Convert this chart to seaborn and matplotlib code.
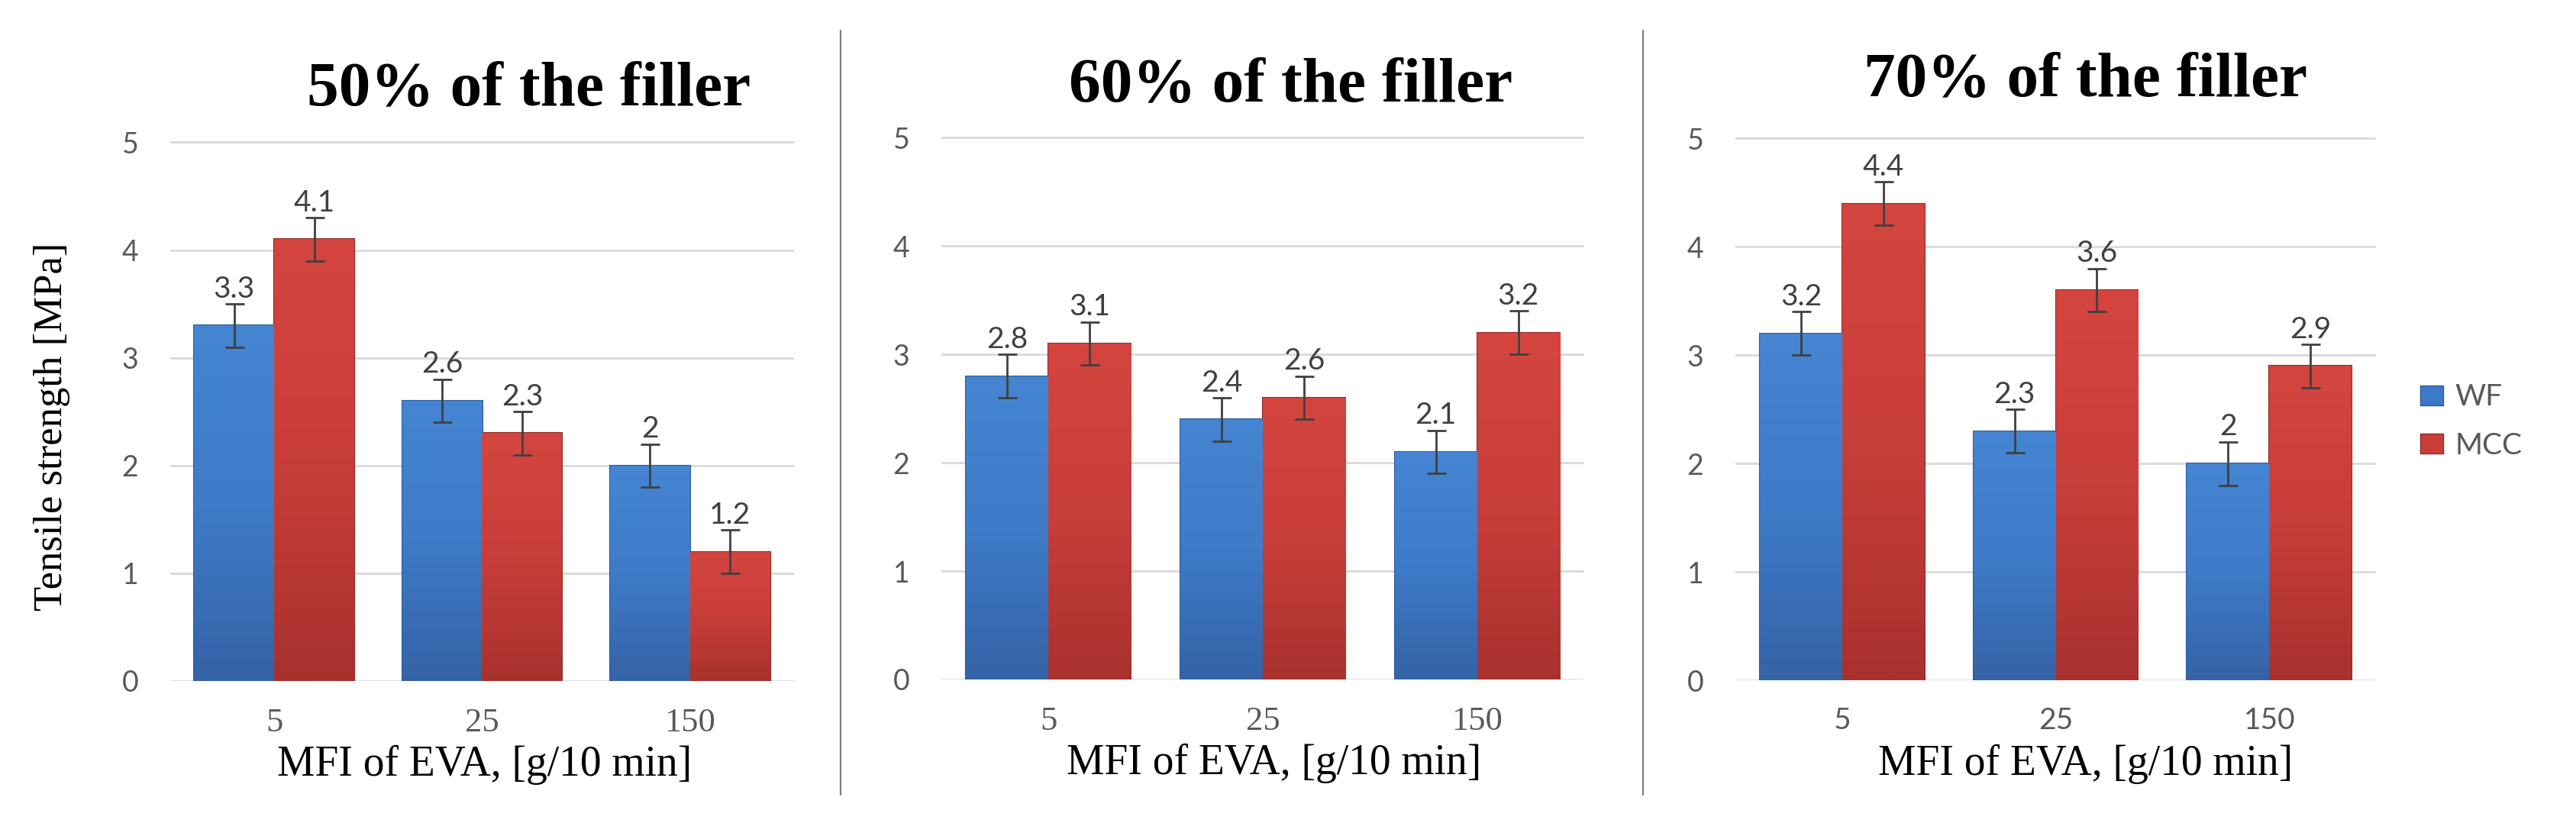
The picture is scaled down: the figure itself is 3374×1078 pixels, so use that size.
import matplotlib
matplotlib.use("Agg")
import matplotlib.pyplot as plt
import seaborn as sns
import pandas as pd
import numpy as np
from matplotlib.lines import Line2D
from matplotlib.patches import Patch
from matplotlib.colors import LinearSegmentedColormap

# ---------------- data ----------------
mfi_levels = ["5", "25", "150"]
series_names = ["WF", "MCC"]
panel_titles = ["50% of the filler", "60% of the filler", "70% of the filler"]

wf_50 = [3.3, 2.6, 2.0]
mcc_50 = [4.1, 2.3, 1.2]
wf_60 = [2.8, 2.4, 2.1]
mcc_60 = [3.1, 2.6, 3.2]
wf_70 = [3.2, 2.3, 2.0]
mcc_70 = [4.4, 3.6, 2.9]

err_wf_50 = [0.2, 0.2, 0.2]
err_mcc_50 = [0.2, 0.2, 0.2]
err_wf_60 = [0.2, 0.2, 0.2]
err_mcc_60 = [0.2, 0.2, 0.2]
err_wf_70 = [0.2, 0.2, 0.2]
err_mcc_70 = [0.2, 0.2, 0.2]

y_ticks = [0, 1, 2, 3, 4, 5]
x_label = "MFI of EVA, [g/10 min]"
y_label = "Tensile strength [MPa]"

panels = [
    (panel_titles[0], wf_50, mcc_50, err_wf_50, err_mcc_50),
    (panel_titles[1], wf_60, mcc_60, err_wf_60, err_mcc_60),
    (panel_titles[2], wf_70, mcc_70, err_wf_70, err_mcc_70),
]

# ---------------- style ----------------
sns.set_style("white")
SERIF = ["Liberation Serif", "DejaVu Serif"]
SANS = ["Lato", "DejaVu Sans"]
plt.rcParams["font.family"] = SERIF

bar_colors = {"WF": "#3C79C6", "MCC": "#CA3E3A"}
edge_colors = {"WF": "#2D5B98", "MCC": "#8F2A27"}
grad_colors = {
    "WF": ["#3563A6", "#3E7BC8", "#4585D2"],
    "MCC": ["#A8312E", "#C83E3A", "#D4453F"],
}
tick_grey = "#595959"
label_grey = "#404040"

W, H = 3374, 1078
fig = plt.figure(figsize=(W / 100, H / 100), dpi=100)

rects = [
    (223 / W, 1 - 892 / H, 817 / W, 707 / H),
    (1233 / W, 1 - 890 / H, 842 / W, 711 / H),
    (2273 / W, 1 - 891 / H, 839 / W, 711 / H),
]
title_pos = [(0.575, 1.066), (0.543, 1.065), (0.546, 1.076)]
xlabel_x = [0.504, 0.517, 0.547]
xtick_serif = [True, True, False]
grad = np.linspace(0, 1, 256).reshape(-1, 1)

for i, (title, wf, mcc, e_wf, e_mcc) in enumerate(panels):
    ax = fig.add_axes(rects[i])
    df = pd.DataFrame({
        "MFI": mfi_levels * 2,
        "Series": [series_names[0]] * 3 + [series_names[1]] * 3,
        "Value": list(wf) + list(mcc),
    })
    sns.barplot(data=df, x="MFI", y="Value", hue="Series", order=mfi_levels,
                hue_order=series_names, palette=bar_colors, saturation=1,
                width=0.77, gap=0, errorbar=None, legend=False, ax=ax,
                linewidth=1.5, zorder=2)
    xlim = ax.get_xlim()

    for cont, name, errs in zip(ax.containers, series_names, [e_wf, e_mcc]):
        cmap = LinearSegmentedColormap.from_list(name, grad_colors[name])
        xs, vals = [], []
        for b in cont:
            b.set_edgecolor(edge_colors[name])
            x0, w, h = b.get_x(), b.get_width(), b.get_height()
            im = ax.imshow(grad, extent=[x0, x0 + w, 0, h], origin="lower",
                           aspect="auto", cmap=cmap, zorder=2.2)
            im.set_clip_path(b)
            xs.append(x0 + w / 2)
            vals.append(h)
        ax.errorbar(xs, vals, yerr=errs, fmt="none", ecolor=label_grey,
                    elinewidth=2, capsize=9, capthick=2, zorder=4)
        for x, v, e in zip(xs, vals, errs):
            ax.annotate(f"{v:g}", (x, v + e), xytext=(0, 1),
                        textcoords="offset points", ha="center", va="bottom",
                        fontsize=28, color=label_grey, family=SANS, zorder=5)

    ax.set_xlim(xlim)
    ax.set_ylim(0, 5.01)
    ax.set_yticks(y_ticks)
    ax.set_yticklabels([str(t) for t in y_ticks], family=SANS, fontsize=27,
                       color=tick_grey)
    ax.set_xticks(range(len(mfi_levels)))
    if xtick_serif[i]:
        ax.set_xticklabels(mfi_levels, family=SERIF, fontsize=32, color=tick_grey)
    else:
        ax.set_xticklabels(mfi_levels, family=SANS, fontsize=28, color=tick_grey)
    ax.tick_params(axis="y", length=0, pad=30)
    ax.tick_params(axis="x", length=0, pad=25)
    ax.yaxis.grid(True, color="#D9D9D9", linewidth=2)
    ax.xaxis.grid(False)
    ax.set_axisbelow(True)
    for sp in ax.spines.values():
        sp.set_visible(False)

    ax.set_xlabel(x_label, fontsize=40, family=SERIF, color="black")
    ax.xaxis.set_label_coords(xlabel_x[i], -0.118)
    if i == 0:
        ax.set_ylabel(y_label, fontsize=38, family=SERIF, color="black")
        ax.yaxis.set_label_coords(-0.16, 0.471)
    else:
        ax.set_ylabel("")

    ax.text(title_pos[i][0], title_pos[i][1], title, transform=ax.transAxes,
            ha="center", va="baseline", fontsize=60, fontweight="bold",
            family=SERIF, color="black")

# separators between panels
for xpix in (1101, 2152):
    fig.add_artist(Line2D([xpix / W, xpix / W], [1 - 40 / H, 1 - 1041 / H],
                          transform=fig.transFigure, color="#7F7F7F", lw=1.6))

handles = [Patch(facecolor=bar_colors[n], edgecolor=edge_colors[n], label=n)
           for n in series_names]
fig.legend(handles=handles, loc="center left", bbox_to_anchor=(3151 / W, 1 - 552 / H),
           frameon=False, prop={"family": SANS, "size": 28}, labelcolor=tick_grey,
           handlelength=0.75, handleheight=0.65, handletextpad=0.4,
           labelspacing=0.7, borderpad=0)

fig.savefig("out.png", dpi=100, facecolor="white")
